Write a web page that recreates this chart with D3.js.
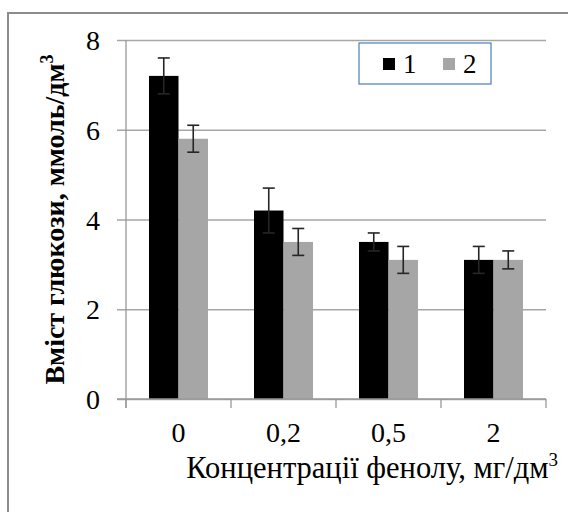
<!DOCTYPE html>
<html>
<head>
<meta charset="utf-8">
<script src="https://cdn.jsdelivr.net/npm/d3@7"></script>
<style>
  body { margin: 0; background: #fff; }
  svg { display: block; }
</style>
</head>
<body>
<div id="chart"></div>
<script>
// concentrations of phenol, mg/dm3
var categories = ['0', '0,2', '0,5', '2'];
var seriesNames = ['1', '2'];
var series1 = [7.2, 4.2, 3.5, 3.1];
var series1Err = [0.4, 0.5, 0.2, 0.3];
var series2 = [5.8, 3.5, 3.1, 3.1];
var series2Err = [0.3, 0.3, 0.3, 0.2];
var yTicks = [0, 2, 4, 6, 8];
var colors = ['#000000', '#a6a6a6'];

var width = 568, height = 512;
var margin = { top: 40, right: 22, bottom: 113, left: 126 };
var serif = 'Liberation Serif, Times New Roman, serif';

var svg = d3.select('#chart').append('svg')
  .attr('width', width)
  .attr('height', height)
  .attr('font-family', serif);

// outer chart frame (runs off the picture on right and bottom)
svg.append('rect')
  .attr('x', 8).attr('y', 13)
  .attr('width', 620).attr('height', 620)
  .attr('fill', 'none')
  .attr('stroke', '#8c8c8c')
  .attr('stroke-width', 2);

var x = d3.scaleBand()
  .domain(categories)
  .range([margin.left, width - margin.right]);

var x1 = d3.scaleBand()
  .domain(seriesNames)
  .range([0, x.bandwidth()])
  .paddingOuter(0.78);

var y = d3.scaleLinear()
  .domain([0, 8])
  .range([height - margin.bottom, margin.top]);

var data = categories.map(function(c, i) {
  return {
    key: c,
    vals: [
      { s: '1', val: series1[i], err: series1Err[i] },
      { s: '2', val: series2[i], err: series2Err[i] }
    ]
  };
});

// gridlines + y ticks
var yAxis = d3.axisLeft(y)
  .tickValues(yTicks)
  .tickSize(-(x.range()[1] - x.range()[0] + 9))
  .tickFormat(d3.format('d'));

var gy = svg.append('g')
  .attr('transform', 'translate(' + (margin.left - 9) + ',0)')
  .call(yAxis)
  .attr('font-family', serif);
gy.select('.domain').remove();
gy.selectAll('.tick line').attr('stroke', '#a6a6a6').attr('stroke-width', 1.3);
gy.selectAll('.tick text')
  .attr('font-family', serif)
  .attr('font-size', 28)
  .attr('fill', '#000')
  .attr('x', -17)
  .attr('dy', '0.34em');

// y axis line
svg.append('line')
  .attr('x1', margin.left).attr('x2', margin.left)
  .attr('y1', y(8)).attr('y2', y(0) + 9)
  .attr('stroke', '#999').attr('stroke-width', 1.3);

// bars
var groups = svg.append('g').selectAll('g')
  .data(data)
  .join('g')
  .attr('transform', function(d) { return 'translate(' + x(d.key) + ',0)'; });

groups.selectAll('rect')
  .data(function(d) { return d.vals; })
  .join('rect')
  .attr('x', function(d) { return x1(d.s); })
  .attr('y', function(d) { return y(d.val); })
  .attr('width', x1.bandwidth())
  .attr('height', function(d) { return y(0) - y(d.val); })
  .attr('fill', function(d, i) { return colors[i]; });

// error bars
var capW = 6;
var cx = function(d) { return x1(d.s) + x1.bandwidth() / 2; };
var eb = groups.selectAll('g.err')
  .data(function(d) { return d.vals; })
  .join('g')
  .attr('class', 'err')
  .attr('stroke', '#262626')
  .attr('stroke-width', 1.6);
eb.append('line')
  .attr('x1', cx).attr('x2', cx)
  .attr('y1', function(d) { return y(d.val - d.err); })
  .attr('y2', function(d) { return y(d.val + d.err); });
eb.append('line')
  .attr('x1', function(d) { return cx(d) - capW; })
  .attr('x2', function(d) { return cx(d) + capW; })
  .attr('y1', function(d) { return y(d.val + d.err); })
  .attr('y2', function(d) { return y(d.val + d.err); });
eb.append('line')
  .attr('x1', function(d) { return cx(d) - capW; })
  .attr('x2', function(d) { return cx(d) + capW; })
  .attr('y1', function(d) { return y(d.val - d.err); })
  .attr('y2', function(d) { return y(d.val - d.err); });

// x axis baseline + boundary ticks
var baseY = y(0);
svg.append('line')
  .attr('x1', margin.left - 9).attr('x2', x.range()[1])
  .attr('y1', baseY).attr('y2', baseY)
  .attr('stroke', '#999').attr('stroke-width', 1.3);
var bounds = categories.map(function(c) { return x(c); }).concat([x.range()[1]]);
svg.append('g').selectAll('line')
  .data(bounds)
  .join('line')
  .attr('x1', function(d) { return d; }).attr('x2', function(d) { return d; })
  .attr('y1', baseY).attr('y2', baseY + 9)
  .attr('stroke', '#999').attr('stroke-width', 1.3);

var xAxis = d3.axisBottom(x).tickSize(0);
var gx = svg.append('g')
  .attr('transform', 'translate(0,' + baseY + ')')
  .call(xAxis)
  .attr('font-family', serif);
gx.select('.domain').remove();
gx.selectAll('.tick text')
  .attr('font-family', serif)
  .attr('font-size', 28)
  .attr('fill', '#000')
  .attr('y', 43)
  .attr('dy', 0);

// axis titles
var xt = svg.append('text')
  .attr('x', 558).attr('y', 478)
  .attr('text-anchor', 'end')
  .attr('font-family', serif)
  .attr('font-size', 30.5)
  .attr('fill', '#000');
xt.append('tspan').text('Концентрації фенолу, мг/дм');
xt.append('tspan').attr('dy', -12).attr('font-size', 19).text('3');

var yt = svg.append('text')
  .attr('transform', 'translate(64,' + ((y(0) + y(8)) / 2) + ') rotate(-90)')
  .attr('text-anchor', 'middle')
  .attr('font-family', serif)
  .attr('font-size', 28)
  .attr('font-weight', 'bold')
  .attr('fill', '#000');
yt.append('tspan').text('Вміст глюкози, ммоль/дм');
yt.append('tspan').attr('dy', -11).attr('font-size', 18).text('3');

// legend
var legend = svg.append('g').attr('transform', 'translate(359,43)');
legend.append('rect')
  .attr('width', 132).attr('height', 41)
  .attr('fill', '#fff')
  .attr('stroke', '#4a7ebb')
  .attr('stroke-width', 1.2);
var li = legend.selectAll('g.item')
  .data(seriesNames)
  .join('g')
  .attr('class', 'item')
  .attr('transform', function(d, i) { return 'translate(' + (24 + i * 60) + ',0)'; });
li.append('rect')
  .attr('y', 15).attr('width', 12).attr('height', 12)
  .attr('fill', function(d, i) { return colors[i]; });
li.append('text')
  .attr('x', 20).attr('y', 30)
  .attr('font-family', serif)
  .attr('font-size', 27)
  .attr('fill', '#000')
  .text(function(d) { return d; });
</script>
</body>
</html>
